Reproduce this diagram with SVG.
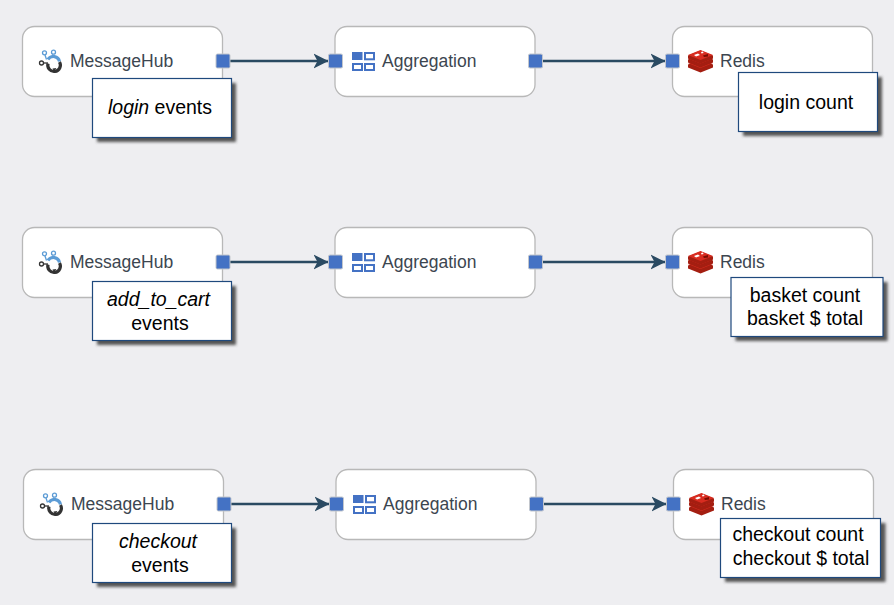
<svg xmlns="http://www.w3.org/2000/svg" width="894" height="605" viewBox="0 0 894 605">
<style>
text{font-family:"Liberation Sans",Arial,sans-serif}
.node{fill:#fff;stroke:#b8b8b8;stroke-width:1.3}
.label{font-size:17.5px;fill:#3c4650}
.port{fill:#4472c4;stroke:#c2c6cc;stroke-width:1}
.wire{stroke:#2a4a62;stroke-width:2.6;fill:none;marker-end:url(#arrow)}
.box{fill:#fff;stroke:#1f497d;stroke-width:1.2}
.shadow{fill:#555;filter:url(#blur)}
.note{font-size:19.5px;fill:#000;text-anchor:middle}
.i{font-style:italic}
</style>
<defs>
<filter id="blur" x="-10%" y="-15%" width="120%" height="130%"><feGaussianBlur stdDeviation="1.8"/></filter>
<marker id="arrow" markerUnits="userSpaceOnUse" markerWidth="17" markerHeight="18" refX="15" refY="9" orient="auto"><path d="M0 1.500 L15 9 L0 16.500 L4 9 Z" fill="#2a4a62"/></marker>
<g id="hub" fill="none">
<path d="M7.500 10.500 L6 6 M12.500 9 L14 5.500" stroke="#5b9bd5" stroke-width="1.300"/>
<path d="M5 14 L9 14" stroke="#333" stroke-width="1.300"/>
<circle cx="5.500" cy="3.800" r="2" stroke="#5b9bd5" stroke-width="1.300"/>
<circle cx="14.500" cy="3.200" r="2" stroke="#5b9bd5" stroke-width="1.300"/>
<circle cx="2.500" cy="14" r="2" stroke="#333" stroke-width="1.300"/>
<path d="M9 10.500 A6.300 6.300 0 0 1 20.500 12.500" stroke="#5b9bd5" stroke-width="3.200"/>
<path d="M9 14.500 A6.300 6.300 0 1 0 20.500 13" stroke="#333" stroke-width="3.200"/>
<path d="M13.500 19.500 L17.500 19 L15 22.500 Z" fill="#333"/>
</g>
<g id="agg">
<rect x="0" y="0" width="10.500" height="8" fill="#4472c4"/>
<rect x="13" y="1" width="9" height="6.300" fill="#fff" stroke="#4472c4" stroke-width="2"/>
<rect x="1" y="12" width="9" height="6" fill="#fff" stroke="#4472c4" stroke-width="2"/>
<rect x="13" y="12" width="9" height="6" fill="#fff" stroke="#4472c4" stroke-width="2"/>
</g>
<g id="redis">
<path d="M0 14.500 L12.500 9.500 L25 14.500 L25 17.500 L12.500 22.500 L0 17.500 Z" fill="#a41e11"/>
<path d="M0 13 L12.500 8 L25 13 L12.500 18 Z" fill="#d82c20"/>
<path d="M0 9.500 L12.500 4.500 L25 9.500 L25 12.500 L12.500 17.500 L0 12.500 Z" fill="#a41e11"/>
<path d="M0 8.500 L12.500 3.500 L25 8.500 L12.500 13.500 Z" fill="#d82c20"/>
<path d="M0 5.500 L12.500 0.500 L25 5.500 L25 8.500 L12.500 13.500 L0 8.500 Z" fill="#a41e11"/>
<path d="M0 5 L12.500 0 L25 5 L12.500 10 Z" fill="#d82c20"/>
<path d="M6 5 L10 3.500 L12 5 L8 6.500 Z M13 2 L15 1.500 L15.500 3 L13.500 3.500 Z" fill="#fff"/>
<path d="M15 5.500 L20 4 L20 6.500 L16 7 Z" fill="#7a0c00"/>
</g>
</defs>
<rect width="894" height="605" fill="#eeeef1"/>
<g id="connectors">
<path class="wire" d="M229 61 H328.500"/><path class="wire" d="M542 61 H665.500"/>
<path class="wire" d="M229 262 H328.500"/><path class="wire" d="M542 262 H665.500"/>
<path class="wire" d="M230 504 H329.500"/><path class="wire" d="M543 504 H666.500"/>
</g>
<g id="hub1"><rect class="node" x="22.500" y="26.500" width="200" height="70" rx="12"/><use href="#hub" x="39" y="49"/><text class="label" x="70" y="66.500">MessageHub</text><rect class="port" x="216" y="54" width="14" height="14" rx="1.500"/></g>
<g id="agg1"><rect class="node" x="335" y="26.500" width="200" height="70" rx="12"/><use href="#agg" x="352" y="52"/><text class="label" x="382" y="66.500">Aggregation</text><rect class="port" x="328.500" y="54" width="14" height="14" rx="1.500"/><rect class="port" x="528.500" y="54" width="14" height="14" rx="1.500"/></g>
<g id="redis1"><rect class="node" x="672.500" y="26.500" width="200" height="70" rx="12"/><use href="#redis" x="688" y="50"/><text class="label" x="720" y="66.500">Redis</text><rect class="port" x="665.500" y="54" width="14" height="14" rx="1.500"/></g>
<g id="note1"><rect class="shadow" x="97" y="83" width="139" height="59"/><rect class="box" x="92.500" y="78.500" width="139" height="59"/><text class="note" x="160" y="114"><tspan class="i">login</tspan> events</text></g>
<g id="note2"><rect class="shadow" x="743" y="77" width="139" height="59"/><rect class="box" x="738.500" y="72.500" width="139" height="59"/><text class="note" x="806" y="109">login count</text></g>
<g id="hub2"><rect class="node" x="22.500" y="227.500" width="200" height="70" rx="12"/><use href="#hub" x="39" y="250"/><text class="label" x="70" y="267.500">MessageHub</text><rect class="port" x="216" y="255" width="14" height="14" rx="1.500"/></g>
<g id="agg2"><rect class="node" x="335" y="227.500" width="200" height="70" rx="12"/><use href="#agg" x="352" y="253"/><text class="label" x="382" y="267.500">Aggregation</text><rect class="port" x="328.500" y="255" width="14" height="14" rx="1.500"/><rect class="port" x="528.500" y="255" width="14" height="14" rx="1.500"/></g>
<g id="redis2"><rect class="node" x="672.500" y="227.500" width="200" height="70" rx="12"/><use href="#redis" x="688" y="251"/><text class="label" x="720" y="267.500">Redis</text><rect class="port" x="665.500" y="255" width="14" height="14" rx="1.500"/></g>
<g id="note3"><rect class="shadow" x="97" y="286" width="139" height="59"/><rect class="box" x="92.500" y="281.500" width="139" height="59"/><text class="note" x="158.500" y="306" font-style="italic">add_to_cart</text><text class="note" x="160" y="330">events</text></g>
<g id="note4"><rect class="shadow" x="735.500" y="282" width="152" height="59"/><rect class="box" x="731" y="277.500" width="152" height="59"/><text class="note" x="805" y="302">basket count</text><text class="note" x="805" y="325">basket $ total</text></g>
<g id="hub3"><rect class="node" x="23.500" y="469.500" width="200" height="70" rx="12"/><use href="#hub" x="40" y="492"/><text class="label" x="71" y="509.500">MessageHub</text><rect class="port" x="217" y="497" width="14" height="14" rx="1.500"/></g>
<g id="agg3"><rect class="node" x="336" y="469.500" width="200" height="70" rx="12"/><use href="#agg" x="353" y="495"/><text class="label" x="383" y="509.500">Aggregation</text><rect class="port" x="329.500" y="497" width="14" height="14" rx="1.500"/><rect class="port" x="529.500" y="497" width="14" height="14" rx="1.500"/></g>
<g id="redis3"><rect class="node" x="673.500" y="469.500" width="200" height="70" rx="12"/><use href="#redis" x="689" y="493"/><text class="label" x="721" y="509.500">Redis</text><rect class="port" x="666.500" y="497" width="14" height="14" rx="1.500"/></g>
<g id="note5"><rect class="shadow" x="97" y="528" width="139" height="59"/><rect class="box" x="92.500" y="523.500" width="139" height="59"/><text class="note" x="158" y="548" font-style="italic">checkout</text><text class="note" x="160" y="572">events</text></g>
<g id="note6"><rect class="shadow" x="725" y="523" width="160.500" height="59"/><rect class="box" x="720.500" y="518.500" width="160" height="59"/><text class="note" x="798" y="541">checkout count</text><text class="note" x="801" y="565">checkout $ total</text></g>
</svg>
